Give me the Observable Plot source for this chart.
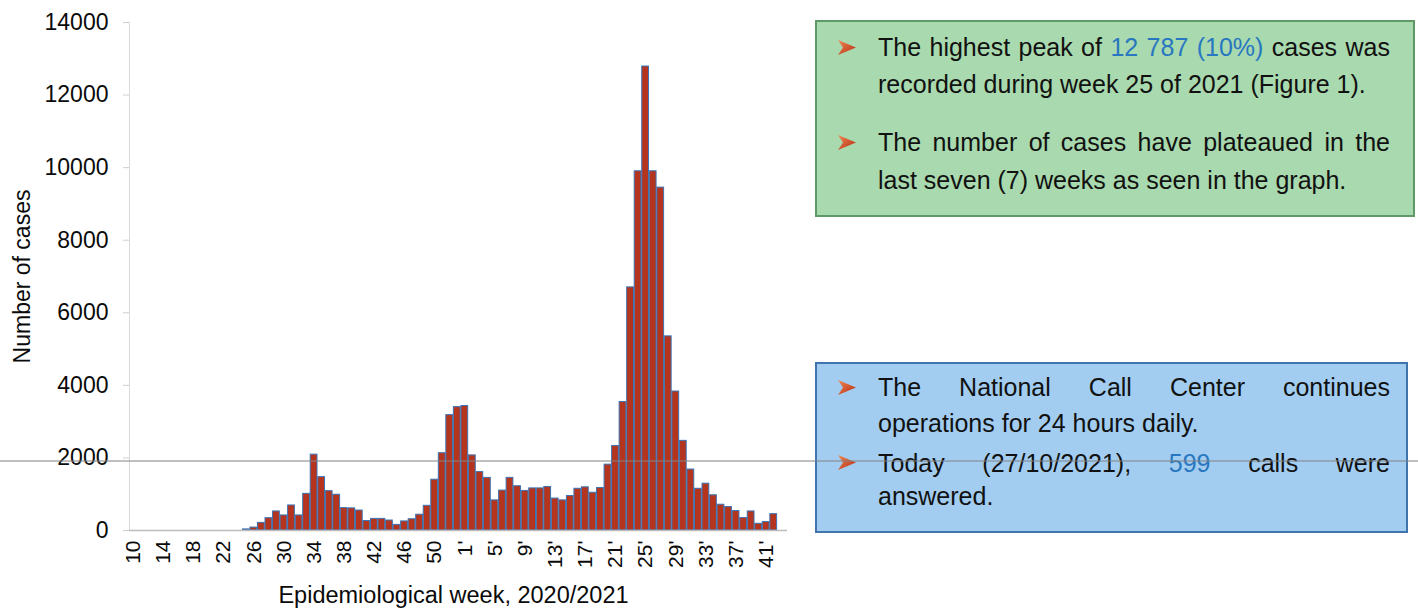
<!DOCTYPE html>
<html><head><meta charset="utf-8">
<script src="https://cdn.jsdelivr.net/npm/d3@7"></script>
<script src="https://cdn.jsdelivr.net/npm/@observablehq/plot@0.6"></script>
<style>
html,body{margin:0;padding:0;background:#fff;}
#page{position:relative;width:1418px;height:609px;overflow:hidden;font-family:"Liberation Sans",Arial,sans-serif;}
#chart{position:absolute;left:0;top:0;}
.box{position:absolute;box-sizing:border-box;}
#green{left:815px;top:20px;width:600px;height:197px;background:#a9d9ae;border:2px solid #5f9a66;}
#blue{left:815px;top:362px;width:593px;height:171px;background:#a2cdf0;border:2px solid #3f74ad;}
.line{position:absolute;left:878px;width:512px;height:37px;line-height:37px;font-size:25px;color:#111;white-space:nowrap;font-family:"Liberation Sans",Arial,sans-serif;}
.j{text-align:justify;text-align-last:justify;}
.hl{color:#2877c0;}
.arrow{position:absolute;left:838px;width:18px;height:15px;}
#scanline{position:absolute;left:0;top:460px;width:1418px;height:2px;background:rgba(130,130,130,0.5);}
g[aria-label="y-axis tick"]{stroke:#cfcfcf;}
g[aria-label="x-axis label"] text{font-size:23.5px;}
</style>
</head><body>
<div id="page">
  <div id="chart"></div>
  <div id="green" class="box"></div>
  <div id="blue" class="box"></div>

  <svg class="arrow" style="top:40px" viewBox="0 0 18 15"><defs><linearGradient id="ag" x1="0" y1="0" x2="1" y2="1"><stop offset="0" stop-color="#f08a55"/><stop offset="1" stop-color="#b52a10"/></linearGradient></defs><polygon points="0,0 18,7.5 0,15 5,7.5" fill="url(#ag)"/></svg>
  <div class="line j" style="top:28.5px">The highest peak of <span class="hl">12 787 (10%)</span> cases was</div>
  <div class="line" style="top:65.5px">recorded during week 25 of 2021 (Figure 1).</div>

  <svg class="arrow" style="top:135px" viewBox="0 0 18 15"><polygon points="0,0 18,7.5 0,15 5,7.5" fill="url(#ag)"/></svg>
  <div class="line j" style="top:123.5px">The number of cases have plateaued in the</div>
  <div class="line" style="top:161.5px">last seven (7) weeks as seen in the graph.</div>

  <svg class="arrow" style="top:380px" viewBox="0 0 18 15"><polygon points="0,0 18,7.5 0,15 5,7.5" fill="url(#ag)"/></svg>
  <div class="line j" style="top:368.5px">The National Call Center continues</div>
  <div class="line" style="top:404.5px">operations for 24 hours daily.</div>

  <svg class="arrow" style="top:455px" viewBox="0 0 18 15"><polygon points="0,0 18,7.5 0,15 5,7.5" fill="url(#ag)"/></svg>
  <div class="line j" style="top:444.5px">Today (27/10/2021), <span class="hl">599</span> calls were</div>
  <div class="line" style="top:477.5px">answered.</div>

  <div id="scanline"></div>
</div>
<script>
const weeks = [
  "10","11","12","13","14","15","16","17","18","19","20","21","22","23","24","25",
  "26","27","28","29","30","31","32","33","34","35","36","37","38","39","40","41",
  "42","43","44","45","46","47","48","49","50","51","52","53",
  "1'","2'","3'","4'","5'","6'","7'","8'","9'","10'","11'","12'","13'","14'",
  "15'","16'","17'","18'","19'","20'","21'","22'","23'","24'","25'","26'","27'",
  "28'","29'","30'","31'","32'","33'","34'","35'","36'","37'","38'","39'","40'",
  "41'","42'"
];
const cases = [
  0,0,0,0,0,0,0,0,0,0,0,0,0,0,0,30,
  80,210,340,525,415,690,415,1010,2090,1470,1085,985,617,610,550,260,
  320,320,275,155,250,310,435,680,1400,2130,3180,3400,
  3430,2070,1610,1450,830,1100,1450,1220,1090,1160,1160,1200,880,830,
  950,1150,1190,1040,1170,1815,2330,3540,6700,9900,12787,9900,9450,
  5350,3830,2470,1680,1150,1290,970,710,646,536,343,525,185,
  232,450
];
const xTickLabels = ["10","14","18","22","26","30","34","38","42","46","50",
  "1'","5'","9'","13'","17'","21'","25'","29'","33'","37'","41'"];
const yTicks = [0,2000,4000,6000,8000,10000,12000,14000];

const data = weeks.map((w, i) => ({week: w, cases: cases[i]}));

const chart = Plot.plot({
  width: 800,
  height: 609,
  marginLeft: 129,
  marginRight: 23,
  marginTop: 22,
  marginBottom: 79,
  style: {fontFamily: "'Liberation Sans', Arial, sans-serif", color: "#0a0a0a", background: "transparent"},
  x: {type: "band", domain: weeks, paddingInner: 0.1, paddingOuter: 0.05},
  y: {domain: [0, 14000]},
  marks: [
    Plot.frame({anchor: "left", stroke: "#dadada"}),
    Plot.barY(data, {x: "week", y: "cases", fill: "#b5341e", stroke: "#3a74b6", strokeWidth: 1}),
    Plot.ruleY([0], {stroke: "#bdbdbd", strokeWidth: 1.5, insetRight: -10}),
    Plot.axisY({ticks: yTicks, tickFormat: d3.format("d"), tickSize: 6, tickPadding: 15, fontSize: 23,
      label: "Number of cases", labelAnchor: "center", labelOffset: 116, labelArrow: "none"}),
    Plot.axisX({ticks: xTickLabels, tickRotate: -90, tickSize: 0, tickPadding: 10, fontSize: 21,
      label: "Epidemiological week, 2020/2021", labelAnchor: "center", labelOffset: 72, labelArrow: "none"})
  ]
});
document.getElementById("chart").appendChild(chart);
</script>
</body></html>
